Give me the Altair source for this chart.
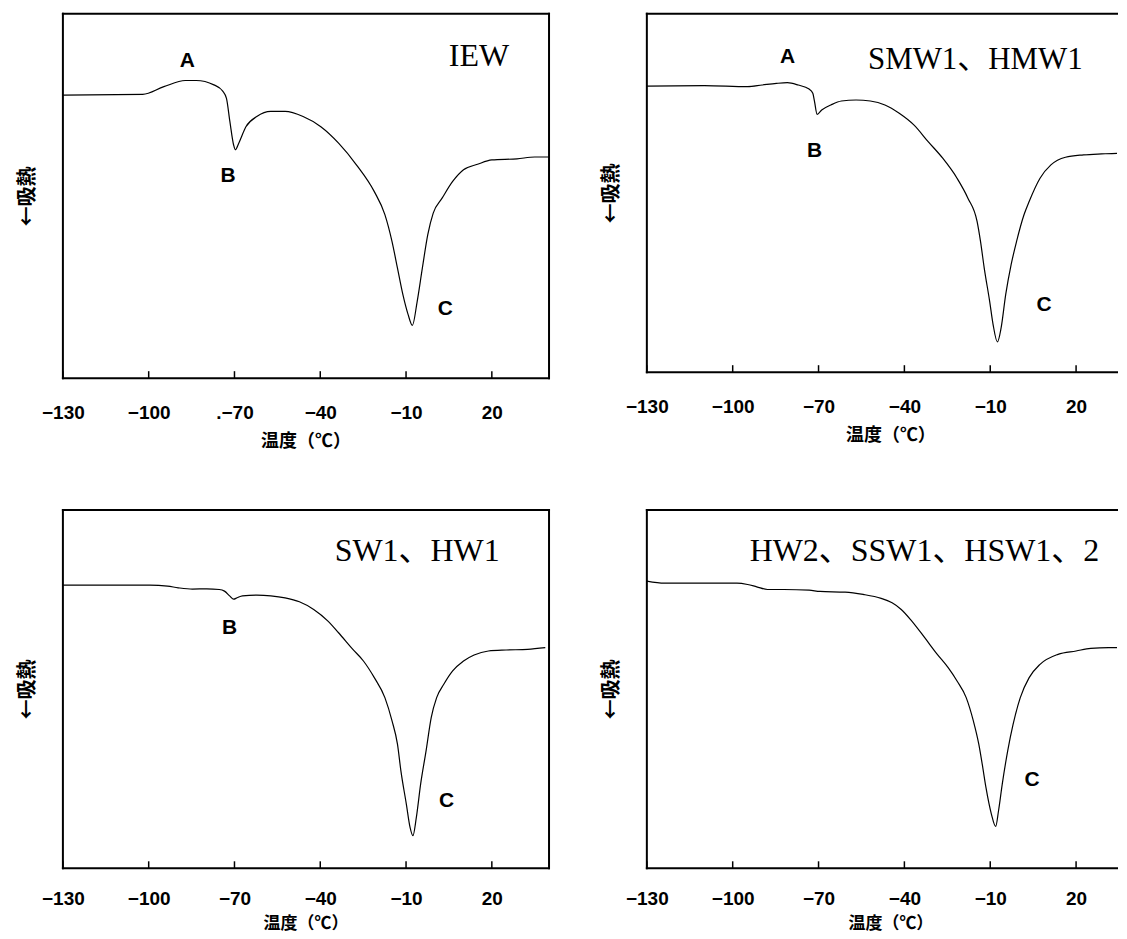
import altair as alt
import pandas as pd

TICKS = [-130, -100, -70, -40, -10, 20]

# Panel 1: IEW
IEW_T = [-130, -102.1, -94.7, -87.2, -83.4, -77.2, -74.1, -72.8, -71.6, -70.3, -69.7, -68.5, -66.0,
         -62.2, -57.3, -52.3, -46.0, -39.8, -33.6, -27.3, -21.1, -17.4, -14.9, -13.0, -11.1, -9.3,
         -7.8, -6.1, -4.3, -2.4, -0.5, 2.6, 6.3, 10.1, 15.0, 20.0, 28.8, 35.0, 40.0]
IEW_V = [77.7, 77.9, 80.0, 81.7, 81.7, 80.5, 78.8, 76.8, 70.4, 64.0, 62.7, 64.5, 69.0, 71.8, 73.2,
         73.2, 71.8, 69.0, 64.5, 58.5, 51.2, 44.9, 37.5, 30.2, 22.9, 17.5, 14.5, 21.1, 30.2, 39.4,
         45.3, 49.4, 54.0, 57.2, 58.7, 59.9, 60.2, 60.7, 60.7]

# Panel 2: SMW1, HMW1
SMW_T = [-130, -109.9, -94.8, -89.7, -84.7, -80.9, -77.1, -73.3, -72.0, -71.4, -70.5, -68.9, -65.7,
         -62.0, -56.9, -51.9, -46.8, -41.8, -36.7, -31.7, -26.6, -21.6, -17.8, -14.6, -13.4, -12.1,
         -10.2, -9.0, -7.5, -6.2, -4.6, -2.7, -0.8, 1.8, 3.6, 7.4, 11.2, 16.3, 22.6, 28.9, 35.2, 40.0]
SMW_V = [79.85, 79.94, 79.66, 80.13, 80.59, 80.78, 80.13, 79.01, 77.81, 75.49, 71.96, 73.16, 74.56,
         75.67, 75.95, 75.67, 74.56, 72.24, 68.99, 64.34, 59.70, 54.13, 48.56, 42.06, 36.49, 29.06,
         19.77, 13.28, 8.45, 12.35, 21.63, 30.0, 36.49, 43.92, 47.63, 54.13, 57.84, 59.98, 60.63,
         60.91, 61.09, 61.09]

# Panel 3: SW1, HW1
SW_T = [-130, -114.6, -99.6, -93.4, -89.7, -84.7, -79.7, -75.3, -73.5, -71.6, -70.3, -69.1, -67.2,
        -62.2, -57.3, -52.3, -47.3, -42.3, -37.3, -33.6, -28.6, -24.9, -21.1, -17.4, -14.9, -13.0,
        -11.8, -9.9, -8.6, -7.6, -6.4, -4.9, -3.0, -1.2, 0.7, 3.2, 6.3, 10.1, 13.8, 18.8, 25.0, 32.5, 38.7]
SW_V = [79.01, 79.01, 79.01, 78.73, 78.27, 77.90, 77.99, 77.80, 77.34, 75.95, 75.11, 75.48, 76.04,
        76.23, 76.04, 75.48, 74.37, 72.23, 68.98, 65.73, 61.09, 57.84, 53.20, 47.63, 41.13, 34.63,
        27.20, 17.92, 11.42, 9.10, 14.20, 23.49, 32.77, 42.06, 47.63, 51.34, 55.06, 57.84, 59.51,
        60.63, 60.91, 61.09, 61.56]

# Panel 4: HW2, SSW1, HSW1, 2
HW_T = [-130, -123.8, -109.9, -98.5, -94.8, -91.6, -87.8, -82.1, -73.3, -69.5, -60.7, -54.4, -48.1,
        -44.3, -41.1, -37.4, -32.9, -28.5, -24.7, -21.6, -18.4, -15.9, -14.0, -12.8, -11.5, -9.6,
        -8.1, -7.1, -5.8, -3.9, -2.0, 0.5, 3.6, 7.4, 13.7, 20.0, 25.1, 31.4, 37.5, 40.0]
HW_V = [80.13, 79.57, 79.57, 79.57, 79.20, 78.55, 77.80, 77.80, 77.62, 77.25, 77.06, 76.41, 75.30,
        74.09, 72.23, 68.98, 64.34, 59.70, 55.98, 52.27, 47.63, 41.13, 34.63, 29.06, 22.56, 15.13,
        11.69, 16.06, 23.49, 32.77, 40.20, 47.63, 53.20, 56.91, 59.70, 60.63, 61.37, 61.56, 61.56, 61.56]

# Peak letters
IEW_ANN_T = [-86.5, -72.2, 3.7]
IEW_ANN_V = [87.1, 55.6, 18.9]
IEW_ANN_S = ["A", "B", "C"]
SMW_ANN_T = [-80.8, -71.4, 8.8]
SMW_ANN_V = [88.0, 61.6, 18.7]
SMW_ANN_S = ["A", "B", "C"]
SW_ANN_T = [-71.7, 4.2]
SW_ANN_V = [67.1, 18.7]
SW_ANN_S = ["B", "C"]
HW_ANN_T = [4.6]
HW_ANN_V = [24.5]
HW_ANN_S = ["C"]

NAMES = ["IEW", "SMW1、HMW1", "SW1、HW1", "HW2、SSW1、HSW1、2"]
NAME_T = [15.5, -15.2, -6.1, -33.0]
NAME_V = [88.5, 87.2, 88.6, 88.6]

X_TITLE = "温度（℃）"
Y_TITLE = "←吸熱"

CJK = "Noto Sans CJK JP"


def make_panel(t, v, ann_t, ann_v, ann_s, name, name_t, name_v, xmax, W, H,
               right_border, dot70, title_x, title_y, name_size, label_pad, title_size):
    xs = alt.Scale(domain=[-130, xmax], nice=False, zero=False)
    ys = alt.Scale(domain=[0, 100], nice=False, zero=False)
    ax_kw = dict(values=TICKS, domain=False, ticks=False, grid=False,
                 labelFont="Liberation Sans", labelFontSize=19, labelFontWeight="bold",
                 labelColor="black", labelPadding=label_pad, labelFlush=False,
                 title=X_TITLE, titleFont=CJK, titleFontSize=title_size, titleFontWeight="bold",
                 titleColor="black", titleBaseline="middle", titleX=title_x, titleY=title_y)
    if dot70:
        ax_kw["labelExpr"] = "datum.value == -70 ? '.\u221270' : datum.label"
    xaxis = alt.Axis(**ax_kw)
    yaxis = alt.Axis(domain=False, ticks=False, labels=False, grid=False,
                     title=Y_TITLE, titleFont=CJK, titleFontSize=20,
                     titleFontWeight="bold", titleColor="black", titlePadding=25)

    def X(f):
        return alt.X(f, scale=xs, axis=xaxis)

    def Y(f):
        return alt.Y(f, scale=ys, axis=yaxis)

    line = alt.Chart(pd.DataFrame({"t": t, "v": v})).mark_line(
        color="black", strokeWidth=1.2, interpolate="monotone", clip=True
    ).encode(x=X("t:Q"), y=Y("v:Q"))

    ann = alt.Chart(pd.DataFrame({"t": ann_t, "v": ann_v, "s": ann_s})).mark_text(
        font="Liberation Sans", fontSize=21, fontWeight="bold", color="black"
    ).encode(x=X("t:Q"), y=Y("v:Q"), text="s:N")

    nm = alt.Chart(pd.DataFrame({"t": [name_t], "v": [name_v], "s": [name]})).mark_text(
        font="Liberation Serif, Noto Sans CJK JP", fontSize=name_size, color="black"
    ).encode(x=X("t:Q"), y=Y("v:Q"), text="s:N")

    tk = alt.Chart(pd.DataFrame({"t": TICKS})).mark_rule(color="black", strokeWidth=1.5).encode(
        x=X("t:Q"), y=alt.value(H), y2=alt.value(H - 7))

    fx = [-130, -130, -130]
    fx2 = [-130, xmax, xmax]
    fy = [0, 100, 0]
    fy2 = [100, 100, 0]
    if right_border:
        fx.append(xmax); fx2.append(xmax); fy.append(0); fy2.append(100)
    frame = alt.Chart(pd.DataFrame({"x": fx, "x2": fx2, "y": fy, "y2": fy2})).mark_rule(
        color="black", strokeWidth=2, strokeCap="square"
    ).encode(x=X("x:Q"), x2="x2:Q", y=Y("y:Q"), y2="y2:Q")

    return alt.layer(line, ann, nm, tk, frame).properties(width=W, height=H)


RIGHT_MAX = 34.3
RIGHT_W = 471

p1 = make_panel(IEW_T, IEW_V, IEW_ANN_T, IEW_ANN_V, IEW_ANN_S, NAMES[0], NAME_T[0], NAME_V[0],
                40, 487, 365, True, True, 243, 63, 32, 25, 18)
p2 = make_panel(SMW_T, SMW_V, SMW_ANN_T, SMW_ANN_V, SMW_ANN_S, NAMES[1], NAME_T[1], NAME_V[1],
                RIGHT_MAX, RIGHT_W, 359, False, False, 244, 63, 31, 25, 18)
p3 = make_panel(SW_T, SW_V, SW_ANN_T, SW_ANN_V, SW_ANN_S, NAMES[2], NAME_T[2], NAME_V[2],
                40, 487, 359, True, False, 243, 55, 32, 21, 17)
p4 = make_panel(HW_T, HW_V, HW_ANN_T, HW_ANN_V, HW_ANN_S, NAMES[3], NAME_T[3], NAME_V[3],
                RIGHT_MAX, RIGHT_W, 359, False, False, 244, 55, 32, 21, 17)

top = alt.hconcat(p1, p2, spacing=51)
bottom = alt.hconcat(p3, p4, spacing=51)
chart = alt.vconcat(top, bottom, spacing=58).properties(
    padding={"left": 10, "top": 3, "right": 0, "bottom": 0}
).configure_view(strokeWidth=0)

chart.save("out.html", embed_options={"renderer": "svg", "actions": False})
